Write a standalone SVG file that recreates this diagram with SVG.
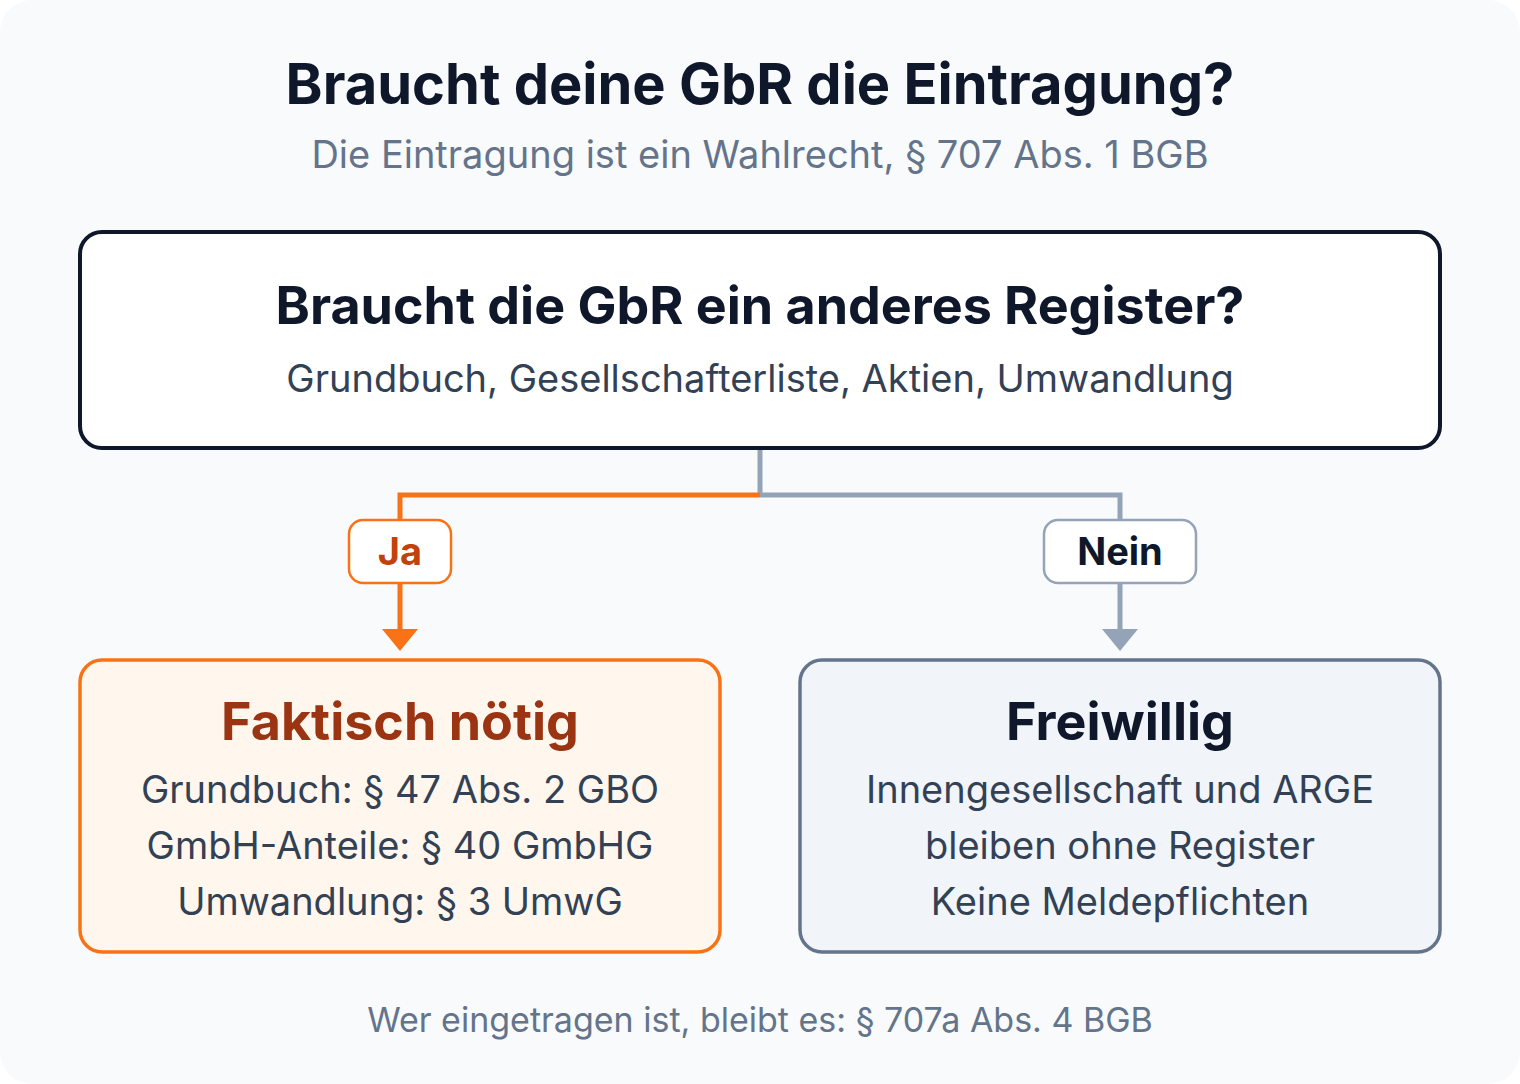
<svg xmlns="http://www.w3.org/2000/svg" width="1520" height="1084" viewBox="0 0 1520 1084">
<style>
text{font-family:Inter,"Noto Sans","Liberation Sans",sans-serif;text-anchor:middle}
.h{font-weight:700}
.line{fill:none;stroke-width:5}
</style>
<rect x="0" y="0" width="1520" height="1084" fill="#ffffff"/>
<rect x="0" y="0" width="1520" height="1084" rx="32" fill="#f8fafc"/>
<text class="h" x="760" y="104" font-size="56" fill="#0f172a">Braucht deine GbR die Eintragung?</text>
<text x="760" y="168" font-size="38" fill="#64748b">Die Eintragung ist ein Wahlrecht, § 707 Abs. 1 BGB</text>
<g id="connectors">
<path class="line" d="M760 448V495" stroke="#94a3b8"/>
<path class="line" d="M760 495H400V520" stroke="#f97316"/>
<path class="line" d="M760 495H1120V520" stroke="#94a3b8"/>
<path class="line" d="M400 583V630" stroke="#f97316"/>
<path d="M382 629H418L400 651Z" fill="#f97316"/>
<path class="line" d="M1120 583V630" stroke="#94a3b8"/>
<path d="M1102 629H1138L1120 651Z" fill="#94a3b8"/>
</g>
<g id="question">
<rect x="80" y="232" width="1360" height="216" rx="22" fill="#ffffff" stroke="#0f172a" stroke-width="4"/>
<text class="h" x="760" y="324" font-size="52" fill="#0f172a">Braucht die GbR ein anderes Register?</text>
<text x="760" y="392" font-size="38" fill="#334155">Grundbuch, Gesellschafterliste, Aktien, Umwandlung</text>
</g>
<g id="ja">
<rect x="349" y="520" width="102" height="63" rx="14" fill="#ffffff" stroke="#f97316" stroke-width="2.5"/>
<text class="h" x="400" y="565" font-size="38" fill="#c2410c">Ja</text>
</g>
<g id="nein">
<rect x="1044" y="520" width="152" height="63" rx="14" fill="#ffffff" stroke="#94a3b8" stroke-width="2.5"/>
<text class="h" x="1120" y="565" font-size="38" fill="#0f172a">Nein</text>
</g>
<g id="faktisch">
<rect x="80" y="660" width="640" height="292" rx="22" fill="#fff7ed" stroke="#f97316" stroke-width="3.5"/>
<text class="h" x="400" y="740" font-size="52" fill="#9a3412">Faktisch nötig</text>
<text x="400" y="803" font-size="38" fill="#334155">Grundbuch: § 47 Abs. 2 GBO</text>
<text x="400" y="859" font-size="38" fill="#334155">GmbH-Anteile: § 40 GmbHG</text>
<text x="400" y="915" font-size="38" fill="#334155">Umwandlung: § 3 UmwG</text>
</g>
<g id="freiwillig">
<rect x="800" y="660" width="640" height="292" rx="22" fill="#f1f5f9" stroke="#64748b" stroke-width="3.5"/>
<text class="h" x="1120" y="740" font-size="52" fill="#0f172a">Freiwillig</text>
<text x="1120" y="803" font-size="38" fill="#334155">Innengesellschaft und ARGE</text>
<text x="1120" y="859" font-size="38" fill="#334155">bleiben ohne Register</text>
<text x="1120" y="915" font-size="38" fill="#334155">Keine Meldepflichten</text>
</g>
<text x="760" y="1032" font-size="34" fill="#64748b">Wer eingetragen ist, bleibt es: § 707a Abs. 4 BGB</text>
</svg>
